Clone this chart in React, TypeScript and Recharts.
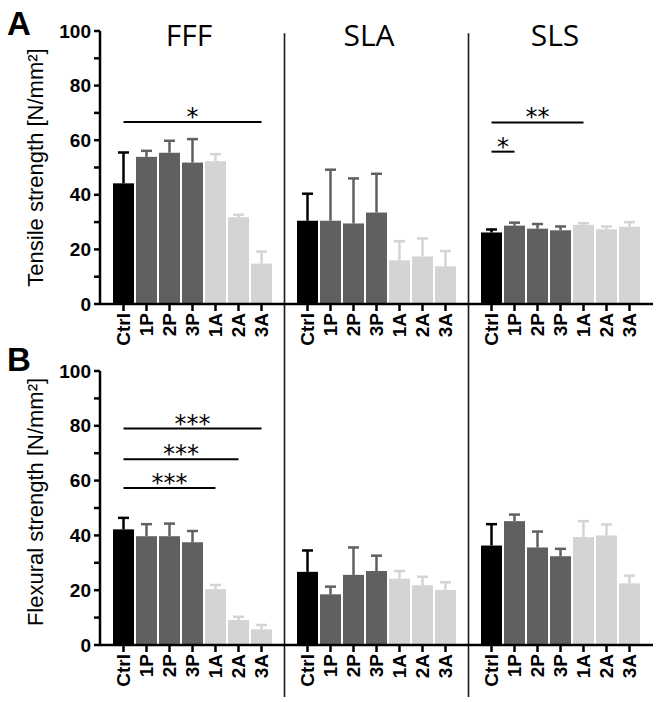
import { Bar, BarChart, ReferenceLine, XAxis, YAxis } from 'recharts';

// -----------------------------------------------------------------------------
// Data
// -----------------------------------------------------------------------------

const categories = ['Ctrl', '1P', '2P', '3P', '1A', '2A', '3A'];
const methods = ['FFF', 'SLA', 'SLS'];
const shadeOf = [0, 1, 1, 1, 2, 2, 2];
const shades = ['#000000', '#606060', '#d4d4d4'];
const yTicks = [0, 10, 20, 30, 40, 50, 60, 70, 80, 90, 100];

const tensileFFF = [44.2, 53.9, 55.4, 51.8, 52.3, 31.8, 14.8];
const tensileFFFSd = [11.3, 2.2, 4.4, 8.6, 2.6, 0.9, 4.4];
const tensileSLA = [30.5, 30.5, 29.5, 33.5, 16.0, 17.4, 13.8];
const tensileSLASd = [9.9, 18.7, 16.5, 14.2, 7.0, 6.6, 5.6];
const tensileSLS = [26.2, 28.7, 27.6, 27.0, 29.0, 27.4, 28.3];
const tensileSLSSd = [1.1, 1.1, 1.7, 1.4, 0.6, 1.0, 1.7];

const flexuralFFF = [42.2, 39.7, 39.7, 37.5, 20.4, 9.1, 5.7];
const flexuralFFFSd = [4.2, 4.4, 4.6, 4.1, 1.5, 1.2, 1.6];
const flexuralSLA = [26.7, 18.5, 25.6, 27.0, 24.2, 21.8, 20.1];
const flexuralSLASd = [7.8, 2.8, 10.0, 5.6, 2.8, 3.1, 2.8];
const flexuralSLS = [36.3, 45.2, 35.6, 32.4, 39.4, 40.0, 22.5];
const flexuralSLSSd = [7.8, 2.4, 5.8, 2.7, 5.8, 4.0, 2.8];

const tensileSig = [
  { from: 'FFF|Ctrl', to: 'FFF|3A', y: 66.7, text: '*' },
  { from: 'SLS|Ctrl', to: 'SLS|1A', y: 66.5, text: '**' },
  { from: 'SLS|Ctrl', to: 'SLS|1P', y: 55.8, text: '*' },
];
const flexuralSig = [
  { from: 'FFF|Ctrl', to: 'FFF|3A', y: 79.0, text: '***' },
  { from: 'FFF|Ctrl', to: 'FFF|2A', y: 67.8, text: '***' },
  { from: 'FFF|Ctrl', to: 'FFF|1A', y: 57.3, text: '***' },
];

// -----------------------------------------------------------------------------
// Helpers
// -----------------------------------------------------------------------------

type Row = { key: string; value: number | null; sd: number | null; shade: number };
type Sig = { from: string; to: string; y: number; text: string };

const buildRows = (means: number[][], sds: number[][]): Row[] => {
  const rows: Row[] = [];
  methods.forEach((m, gi) => {
    if (gi > 0) rows.push({ key: `gap-${gi}`, value: null, sd: null, shade: 0 });
    categories.forEach((c, ci) => {
      rows.push({ key: `${m}|${c}`, value: means[gi][ci], sd: sds[gi][ci], shade: shadeOf[ci] });
    });
  });
  return rows;
};

const tensileRows = buildRows(
  [tensileFFF, tensileSLA, tensileSLS],
  [tensileFFFSd, tensileSLASd, tensileSLSSd],
);
const flexuralRows = buildRows(
  [flexuralFFF, flexuralSLA, flexuralSLS],
  [flexuralFFFSd, flexuralSLASd, flexuralSLSSd],
);

// bar plus a one-sided (upper) error whisker in the bar's own shade
// eslint-disable-next-line @typescript-eslint/no-explicit-any
const BarWithError = (props: any) => {
  const { x, y, width, height, payload } = props;
  if (!payload || payload.value == null) return <g />;
  const color = shades[payload.shade];
  const unit = payload.value > 0 ? height / payload.value : 0;
  const top = y - payload.sd * unit;
  const cx = x + width / 2;
  return (
    <g>
      <rect x={x} y={y} width={width} height={height} fill={color} />
      <line x1={cx} x2={cx} y1={y} y2={top} stroke={color} strokeWidth={2.5} />
      <line x1={cx - 5.5} x2={cx + 5.5} y1={top} y2={top} stroke={color} strokeWidth={2.5} />
    </g>
  );
};

// eslint-disable-next-line @typescript-eslint/no-explicit-any
const XTick = (props: any) => {
  const { x, y, payload } = props;
  const label = String(payload.value).split('|')[1];
  if (!label) return <g />;
  return (
    <g>
      <line x1={x} x2={x} y1={y} y2={y + 7} stroke="#000" strokeWidth={2.5} />
      <text
        x={x}
        y={y + 9}
        transform={`rotate(-90 ${x} ${y + 9})`}
        textAnchor="end"
        dominantBaseline="central"
        fontSize={19}
        fontWeight="bold"
        fill="#000"
      >
        {label}
      </text>
    </g>
  );
};

// eslint-disable-next-line @typescript-eslint/no-explicit-any
const YTick = (props: any) => {
  const { x, y, payload } = props;
  const major = payload.value % 20 === 0;
  return (
    <g>
      <line x1={x - 6} x2={x} y1={y} y2={y} stroke="#000" strokeWidth={2.5} />
      {major && (
        <text
          x={x - 9}
          y={y}
          textAnchor="end"
          dominantBaseline="central"
          fontSize={19}
          fontWeight="bold"
          fill="#000"
        >
          {payload.value}
        </text>
      )}
    </g>
  );
};

// -----------------------------------------------------------------------------
// Panel
// -----------------------------------------------------------------------------

const Panel: React.FC<{
  rows: Row[];
  sig: Sig[];
  height: number;
  marginTop: number;
  xAxisHeight: number;
  sepTop: number;
  sepBottom: number;
}> = ({ rows, sig, height, marginTop, xAxisHeight, sepTop, sepBottom }) => (
  <BarChart
    width={660}
    height={height}
    data={rows}
    margin={{ top: marginTop, right: 7, bottom: 0, left: 0 }}
    barSize={21}
  >
    <XAxis
      dataKey="key"
      type="category"
      height={xAxisHeight}
      interval={0}
      padding={{ left: 12, right: 12 }}
      axisLine={{ stroke: '#000', strokeWidth: 2.5 }}
      tickLine={false}
      tickSize={0}
      tickMargin={0}
      tick={<XTick />}
    />
    <YAxis
      width={100}
      type="number"
      domain={[0, 100]}
      ticks={yTicks}
      interval={0}
      axisLine={{ stroke: '#000', strokeWidth: 2.5 }}
      tickLine={false}
      tickSize={0}
      tickMargin={0}
      tick={<YTick />}
    />
    {['gap-1', 'gap-2'].map((k) => (
      <ReferenceLine
        key={k}
        segment={[
          { x: k, y: sepTop },
          { x: k, y: sepBottom },
        ]}
        stroke="#1a1a1a"
        strokeWidth={1.6}
        ifOverflow="visible"
      />
    ))}
    <Bar dataKey="value" shape={BarWithError} isAnimationActive={false} />
    {sig.map((s, i) => (
      <ReferenceLine
        key={i}
        segment={[
          { x: s.from, y: s.y },
          { x: s.to, y: s.y },
        ]}
        stroke="#000"
        strokeWidth={2}
        ifOverflow="visible"
        label={{
          value: s.text,
          position: 'top',
          offset: -3,
          fontSize: 24,
          fill: '#000',
          fontFamily: 'DejaVu Sans',
        }}
      />
    ))}
  </BarChart>
);

// -----------------------------------------------------------------------------
// App
// -----------------------------------------------------------------------------

const titleX = [189, 369, 555];

export default function App() {
  return (
    <div
      style={{
        position: 'absolute',
        left: 0,
        top: 0,
        width: 660,
        height: 702,
        background: '#fff',
        fontFamily: '"Liberation Sans", Arial, sans-serif',
        overflow: 'hidden',
      }}
    >
      <div style={{ position: 'absolute', left: 0, top: 0 }}>
        <Panel
          rows={tensileRows}
          sig={tensileSig}
          height={350}
          marginTop={31}
          xAxisHeight={46}
          sepTop={99.2}
          sepBottom={-17}
        />
      </div>
      <div style={{ position: 'absolute', left: 0, top: 350 }}>
        <Panel
          rows={flexuralRows}
          sig={flexuralSig}
          height={352}
          marginTop={21}
          xAxisHeight={57}
          sepTop={108}
          sepBottom={-19}
        />
      </div>
      <svg
        width={660}
        height={702}
        style={{ position: 'absolute', left: 0, top: 0, pointerEvents: 'none' }}
      >
        <text x={7} y={35} fontSize={33} fontWeight="bold" fill="#000">
          A
        </text>
        <text x={7} y={371} fontSize={33} fontWeight="bold" fill="#000">
          B
        </text>
        {methods.map((m, i) => (
          <text
            key={m}
            x={titleX[i]}
            y={46}
            textAnchor="middle"
            fontSize={30}
            fontFamily='"Open Sans", sans-serif'
            fill="#000"
          >
            {m}
          </text>
        ))}
        <text
          x={43}
          y={167.5}
          transform="rotate(-90 43 167.5)"
          textAnchor="middle"
          fontSize={22}
          fill="#000"
        >
          Tensile strength [N/mm²]
        </text>
        <text
          x={43}
          y={502}
          transform="rotate(-90 43 502)"
          textAnchor="middle"
          fontSize={22}
          fill="#000"
        >
          Flexural strength [N/mm²]
        </text>
      </svg>
    </div>
  );
}
